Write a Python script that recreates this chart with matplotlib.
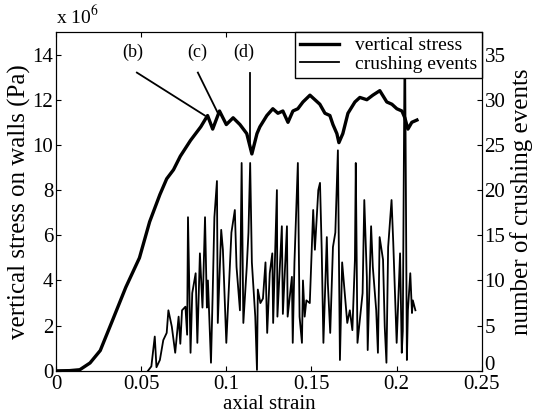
import matplotlib
matplotlib.use("Agg")
import matplotlib.pyplot as plt
from matplotlib.ticker import FuncFormatter
from matplotlib.transforms import ScaledTranslation

plt.rcParams['font.family'] = ['Liberation Serif', 'DejaVu Serif']
plt.rcParams['mathtext.fontset'] = 'stix'

# vertical stress on walls (Pa)
stress_strain = [0.0, 0.008, 0.014, 0.020, 0.026, 0.033, 0.041, 0.049, 0.055, 0.061,
                 0.065, 0.069, 0.073, 0.079, 0.085, 0.089, 0.092, 0.096, 0.100, 0.104,
                 0.108, 0.112, 0.115, 0.118, 0.1197, 0.1238, 0.1273, 0.1303, 0.1332,
                 0.1362, 0.1391, 0.1420, 0.1450, 0.1491, 0.1520, 0.1549, 0.1579, 0.1608,
                 0.1626, 0.1649, 0.1661, 0.1684, 0.1714, 0.1755, 0.1784, 0.1825, 0.1860,
                 0.1901, 0.1942, 0.1972, 0.2001, 0.2031, 0.2048, 0.2066, 0.2089, 0.2119]
stress = [0.0, 0.01, 0.05, 0.35, 0.9, 2.2, 3.7, 5.0, 6.6, 7.8,
          8.5, 8.9, 9.5, 10.2, 10.8, 11.3, 10.7, 11.5, 10.9, 11.2,
          10.9, 10.5, 9.6, 10.5, 10.8, 11.3, 11.6, 11.4, 11.5,
          11.0, 11.5, 11.6, 11.9, 12.2, 12.0, 11.8, 11.4, 11.3,
          10.9, 10.5, 10.1, 10.5, 11.4, 11.9, 12.1, 12.0, 12.2,
          12.4, 11.9, 11.8, 11.6, 11.5, 11.2, 10.7, 11.0, 11.1]
stress = [s * 1e6 for s in stress]

# number of crushing events
crush_strain = [0.054, 0.056, 0.058, 0.059, 0.061, 0.063, 0.065, 0.066, 0.068, 0.070,
                0.072, 0.073, 0.074, 0.076, 0.077, 0.0775, 0.079, 0.080, 0.082, 0.083,
                0.0845, 0.086, 0.0865, 0.0875, 0.0886, 0.0892, 0.091, 0.092, 0.093, 0.0945,
                0.095, 0.097, 0.098, 0.100, 0.103, 0.105, 0.106, 0.108, 0.109, 0.110,
                0.112, 0.113, 0.114, 0.115, 0.117, 0.118, 0.1185, 0.120, 0.1215, 0.123,
                0.124, 0.1255, 0.127, 0.1275, 0.1297, 0.130, 0.1326, 0.1332, 0.1356, 0.136,
                0.1385, 0.139, 0.140, 0.142, 0.143, 0.1444, 0.145, 0.146, 0.147, 0.149,
                0.151, 0.152, 0.154, 0.155, 0.156, 0.157, 0.159, 0.1596, 0.161, 0.1626,
                0.164, 0.1655, 0.1667, 0.168, 0.171, 0.1725, 0.174, 0.1755, 0.176, 0.177,
                0.180, 0.181, 0.1825, 0.183, 0.185, 0.186, 0.188, 0.189, 0.190, 0.192,
                0.193, 0.194, 0.195, 0.197, 0.198, 0.200, 0.202, 0.203, 0.2036, 0.2048,
                0.206, 0.2066, 0.208, 0.209, 0.2095, 0.211]
crushing = [0, 0.5, 3.8, 0.4, 1.2, 3.4, 4.2, 6.7, 4.9, 2.0,
            6.0, 3.0, 6.7, 7.1, 4.0, 17, 2.0, 8.6, 10.8, 3.1,
            13, 7, 10, 17, 7, 10, 0.9, 8.6, 17, 21,
            5.3, 15.6, 13.4, 3.1, 15.3, 17.8, 11.5, 6.7, 23, 5.3,
            11.5, 15.3, 23, 12, 6, 0.1, 9, 7.5, 8, 12,
            4.2, 10.8, 13, 5.3, 20, 6, 16, 6.3, 16, 6,
            10.4, 3.1, 12, 23, 6, 3.1, 10, 6, 7.8, 7.5,
            17.8, 13.4, 20, 20.8, 13.4, 3.1, 14.8, 9.7, 4.2, 13.7,
            15.3, 24.4, 1.2, 12, 5.3, 6.7, 4.5, 12.3, 23, 3.1,
            8.6, 18.9, 10.4, 2.3, 16, 11.5, 6.7, 2.0, 14.8, 12.3,
            4.9, 0.9, 13.7, 18.9, 14.2, 3.1, 13, 2, 4.4, 40,
            1.2, 6.7, 10.8, 6.4, 7.8, 6.7]

fig = plt.figure(figsize=(5.33, 4.2), dpi=100)
ax1 = fig.add_axes([0.105, 0.117, 0.799, 0.807])
ax2 = ax1.twinx()

l1, = ax1.plot(stress_strain, stress, color='black', lw=2.4)
l2, = ax2.plot(crush_strain, crushing, color='black', lw=1.3)

ax1.set_xlim(0, 0.25)
ax1.set_ylim(0, 15e6)
ax2.set_ylim(0, 37.5)
ax1.set_xticks([0, 0.05, 0.1, 0.15, 0.2, 0.25])
ax1.set_xticklabels(['0', '0.05', '0.1', '0.15', '0.2', '0.25'])
ax1.set_yticks([0, 2e6, 4e6, 6e6, 8e6, 10e6, 12e6, 14e6])
ax2.set_yticks([0, 5, 10, 15, 20, 25, 30, 35])
ax1.yaxis.set_major_formatter(FuncFormatter(lambda v, p: f'{v / 1e6:g}'))
ax1.text(0.0, 1.012, 'x 10$^6$', transform=ax1.transAxes, fontsize=14,
         ha='left', va='bottom')

ax1.tick_params(axis='x', direction='in', top=True, labelsize=15, pad=3)
ax1.tick_params(axis='y', direction='in', labelsize=15, pad=2)
ax2.tick_params(axis='y', direction='in', labelsize=15, pad=2)
# nudge the right-hand "0" up a little so it clears the "0.25" below it
zero_lab = ax2.get_yticklabels()[0]
zero_lab.set_transform(zero_lab.get_transform()
                       + ScaledTranslation(0, 0.08, fig.dpi_scale_trans))

ax1.set_xlabel('axial strain', fontsize=15, labelpad=1)
ax1.set_ylabel('vertical stress on walls (Pa)', fontsize=18, labelpad=1)
ax2.set_ylabel('number of crushing events', fontsize=18, labelpad=3)

# annotations (b), (c), (d)
ax1.text(0.045, 14.1e6, '(b)', fontsize=13, ha='center', va='center')
ax1.text(0.083, 14.1e6, '(c)', fontsize=13, ha='center', va='center')
ax1.text(0.110, 14.1e6, '(d)', fontsize=13, ha='center', va='center')
ax1.plot([0.0475, 0.0874], [13.2e6, 11.3e6], color='black', lw=1.3)
ax1.plot([0.0833, 0.0951], [13.2e6, 11.4e6], color='black', lw=1.3)
ax1.plot([0.1138, 0.1138], [13.2e6, 9.8e6], color='black', lw=1.3)

leg = ax2.legend([l1, l2], ['vertical stress', 'crushing events'], loc='upper right',
                 fontsize=14, frameon=True, fancybox=False, edgecolor='black',
                 framealpha=1, borderaxespad=0, handlelength=2.0, labelspacing=0.05,
                 borderpad=0.25)
leg.get_frame().set_linewidth(1.0)

fig.savefig('out.png', dpi=100)
